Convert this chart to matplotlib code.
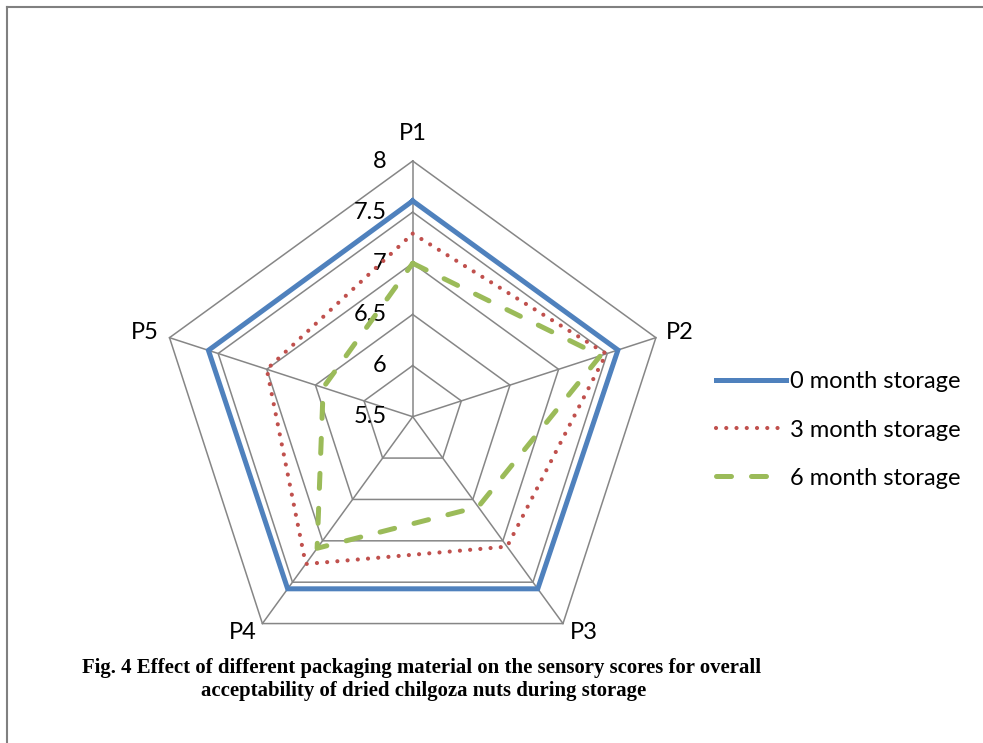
import numpy as np
import matplotlib
matplotlib.use("Agg")
import matplotlib.pyplot as plt
from matplotlib.lines import Line2D

# ---- data -------------------------------------------------------------
categories = ["P1", "P2", "P3", "P4", "P5"]
month_0 = [7.61, 7.61, 7.58, 7.58, 7.60]
month_3 = [7.29, 7.49, 7.07, 7.28, 7.00]
month_6 = [7.00, 7.43, 6.59, 7.09, 6.42]
series_labels = ["0 month storage", "3 month storage", "6 month storage"]
r_ticks = [5.5, 6, 6.5, 7, 7.5, 8]
tick_labels = ["5.5", "6", "6.5", "7", "7.5", "8"]
caption_lines = [
    "Fig. 4 Effect of different packaging material on the sensory scores for overall",
    "acceptability of dried chilgoza nuts during storage",
]

# ---- figure / axes ----------------------------------------------------
W, H = 983, 743
fig = plt.figure(figsize=(W / 100, H / 100), dpi=100)
fig.patch.set_facecolor("white")

cx, cy, R = 412.7, 416.7, 255.7          # radar centre and outer radius (px)
ax = fig.add_axes([(cx - R) / W, (H - cy - R) / H, 2 * R / W, 2 * R / H],
                  projection="polar")
ax.set_theta_offset(np.pi / 2)
ax.set_theta_direction(-1)
ax.set_ylim(r_ticks[0], r_ticks[-1])
ax.grid(False)
ax.spines["polar"].set_visible(False)
ax.set_xticks([])
ax.set_yticks([])
ax.patch.set_alpha(0)

FONT = "Lato"
FS = 17

n = len(categories)
theta = np.linspace(0, 2 * np.pi, n, endpoint=False)
closed = np.append(theta, theta[0])

# pentagon grid and spokes
grid_color = "#868686"
for r in r_ticks[1:]:
    ax.plot(closed, [r] * (n + 1), color=grid_color, lw=1.1,
            clip_on=False, zorder=1, solid_joinstyle="miter")
for t in theta:
    ax.plot([t, t], [r_ticks[0], r_ticks[-1]], color=grid_color, lw=1.1,
            clip_on=False, zorder=1)

# series
def close(v):
    return list(v) + [v[0]]

l0, = ax.plot(closed, close(month_0), color="#4F81BD", lw=3.6,
              solid_joinstyle="miter", clip_on=False, zorder=3,
              label=series_labels[0])
l3, = ax.plot(closed, close(month_3), color="#C0504D", lw=3.0,
              linestyle=(0, (0.01, 2.45)), dash_capstyle="round",
              clip_on=False, zorder=3, label=series_labels[1])
l6, = ax.plot(closed, close(month_6), color="#9BBB59", lw=3.6,
              linestyle=(0, (3, 4)), dash_capstyle="round",
              clip_on=False, zorder=3, label=series_labels[2])

# radial value labels along the P1 spoke
for r, lab in zip(r_ticks, tick_labels):
    ax.annotate(lab, xy=(0, r), xytext=(-26, 0), textcoords="offset pixels",
                ha="right", va="center", fontsize=FS, family=FONT,
                color="black", zorder=2, annotation_clip=False)

# category labels
cat_offsets = [(0, 28, "center"), (10, 5, "left"), (7, -9, "left"),
               (-6, -9, "right"), (-11, 5, "right")]
for t, lab, (dx, dy, ha) in zip(theta, categories, cat_offsets):
    ax.annotate(lab, xy=(t, r_ticks[-1]), xytext=(dx, dy),
                textcoords="offset pixels", ha=ha, va="center",
                fontsize=FS, family=FONT, annotation_clip=False)

# legend
fig.legend(handles=[l0, l3, l6], labels=series_labels, loc="center left",
           bbox_to_anchor=(716 / W, 1 - 430 / H), frameon=False,
           borderpad=0, borderaxespad=0, handlelength=2.95,
           handletextpad=0.2, labelspacing=1.15,
           prop={"family": FONT, "size": FS})

# caption, fitted to its printed width
renderer = fig.canvas.get_renderer()
cap_fs = 13.5
t1 = fig.text(421.5 / W, 1 - 672.7 / H, caption_lines[0], ha="center",
              va="baseline", fontsize=cap_fs, family="Liberation Serif",
              weight="bold")
w = t1.get_window_extent(renderer).width
cap_fs = cap_fs * 679.0 / w
t1.set_fontsize(cap_fs)
fig.text(423.3 / W, 1 - 696.2 / H, caption_lines[1], ha="center",
         va="baseline", fontsize=cap_fs, family="Liberation Serif",
         weight="bold")

# page frame (top and left edges)
frame_kw = dict(transform=fig.transFigure, color="#808080", lw=1.5)
fig.add_artist(Line2D([7 / W, 7 / W], [0, 1 - 6.5 / H], **frame_kw))
fig.add_artist(Line2D([7 / W, 1], [1 - 6.5 / H, 1 - 6.5 / H], **frame_kw))

fig.savefig("out.png", dpi=100, facecolor="white")
